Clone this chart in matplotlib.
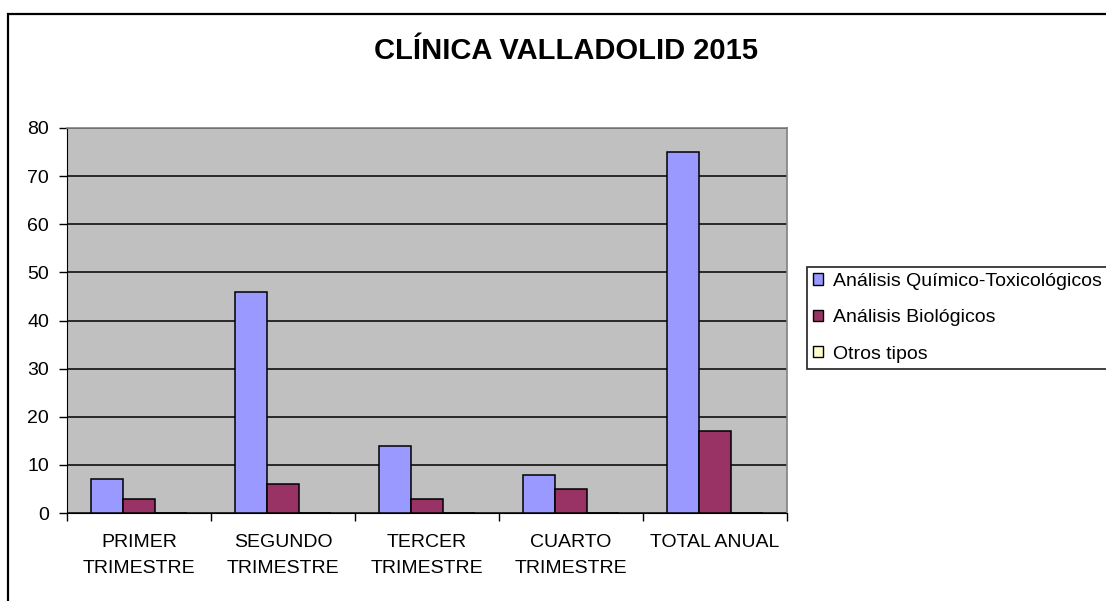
import matplotlib
matplotlib.use('Agg')
import matplotlib.pyplot as plt
from matplotlib.patches import Rectangle
import numpy as np

plt.rcParams['font.family'] = ['Liberation Sans', 'DejaVu Sans']

# Data
categories = ["PRIMER\nTRIMESTRE", "SEGUNDO\nTRIMESTRE", "TERCER\nTRIMESTRE",
              "CUARTO\nTRIMESTRE", "TOTAL ANUAL"]
quimico_toxicologicos = [7, 46, 14, 8, 75]
biologicos = [3, 6, 3, 5, 17]
otros_tipos = [0, 0, 0, 0, 0]

series_labels = ["Análisis Químico-Toxicológicos", "Análisis Biológicos", "Otros tipos"]
series_colors = ["#9999FF", "#993366", "#FFFFCC"]

W, H = 1106, 601
fig = plt.figure(figsize=(W / 100, H / 100), dpi=100)
fig.patch.set_facecolor("white")

# outer chart frame (runs off the right and bottom edges)
fig.patches.append(Rectangle((8 / W, -0.1), 1.2, 1.1 - 14 / H,
                             transform=fig.transFigure, fill=False,
                             edgecolor="black", linewidth=1.6))

ax = fig.add_axes([67 / W, 88 / H, 720 / W, 385 / H])
ax.set_facecolor("#C0C0C0")

x = np.arange(len(categories))
bar_w = 0.2222
all_series = [quimico_toxicologicos, biologicos, otros_tipos]
for i, (vals, lab, col) in enumerate(zip(all_series, series_labels, series_colors)):
    ax.bar(x + (i - 1) * bar_w, vals, width=bar_w, color=col,
           edgecolor="black", linewidth=1.1, label=lab, zorder=3)

ax.set_xlim(-0.5, len(categories) - 0.5)
ax.set_ylim(0, 80)
ax.set_yticks(range(0, 81, 10))
ax.yaxis.grid(True, color="black", linewidth=1.1, zorder=1)
ax.set_axisbelow(True)

# category labels centred, tick marks on the boundaries
ax.set_xticks(np.arange(-0.5, len(categories), 1.0))
ax.set_xticklabels([])
ax.set_xticks(x, minor=True)
ax.set_xticklabels(categories, minor=True, fontsize=14, linespacing=1.68)
ax.tick_params(axis="x", which="minor", length=0, pad=15)
ax.tick_params(axis="x", which="major", direction="out", length=6, width=1, color="black")
ax.tick_params(axis="y", direction="out", length=6, width=1, labelsize=14, pad=7)

for side in ["top", "right"]:
    ax.spines[side].set_color("#808080")
    ax.spines[side].set_linewidth(1.2)
ax.spines["left"].set_color("black")
ax.spines["bottom"].set_color("black")

fig.text(566 / W, 1 - 51 / H, "CLÍNICA VALLADOLID 2015", ha="center", va="center",
         fontsize=21, fontweight="bold")

leg = fig.legend(loc="upper left", bbox_to_anchor=(807 / W, 1 - 267 / H),
                 bbox_transform=fig.transFigure, borderaxespad=0,
                 fontsize=14, frameon=True, fancybox=False, shadow=False,
                 handlelength=0.52, handleheight=0.52, handletextpad=0.5,
                 labelspacing=1.0, borderpad=0.3)
leg.get_frame().set_edgecolor("black")
leg.get_frame().set_linewidth(1.3)
for h in leg.legend_handles:
    h.set_linewidth(1.0)

fig.savefig("out.png", dpi=100)
